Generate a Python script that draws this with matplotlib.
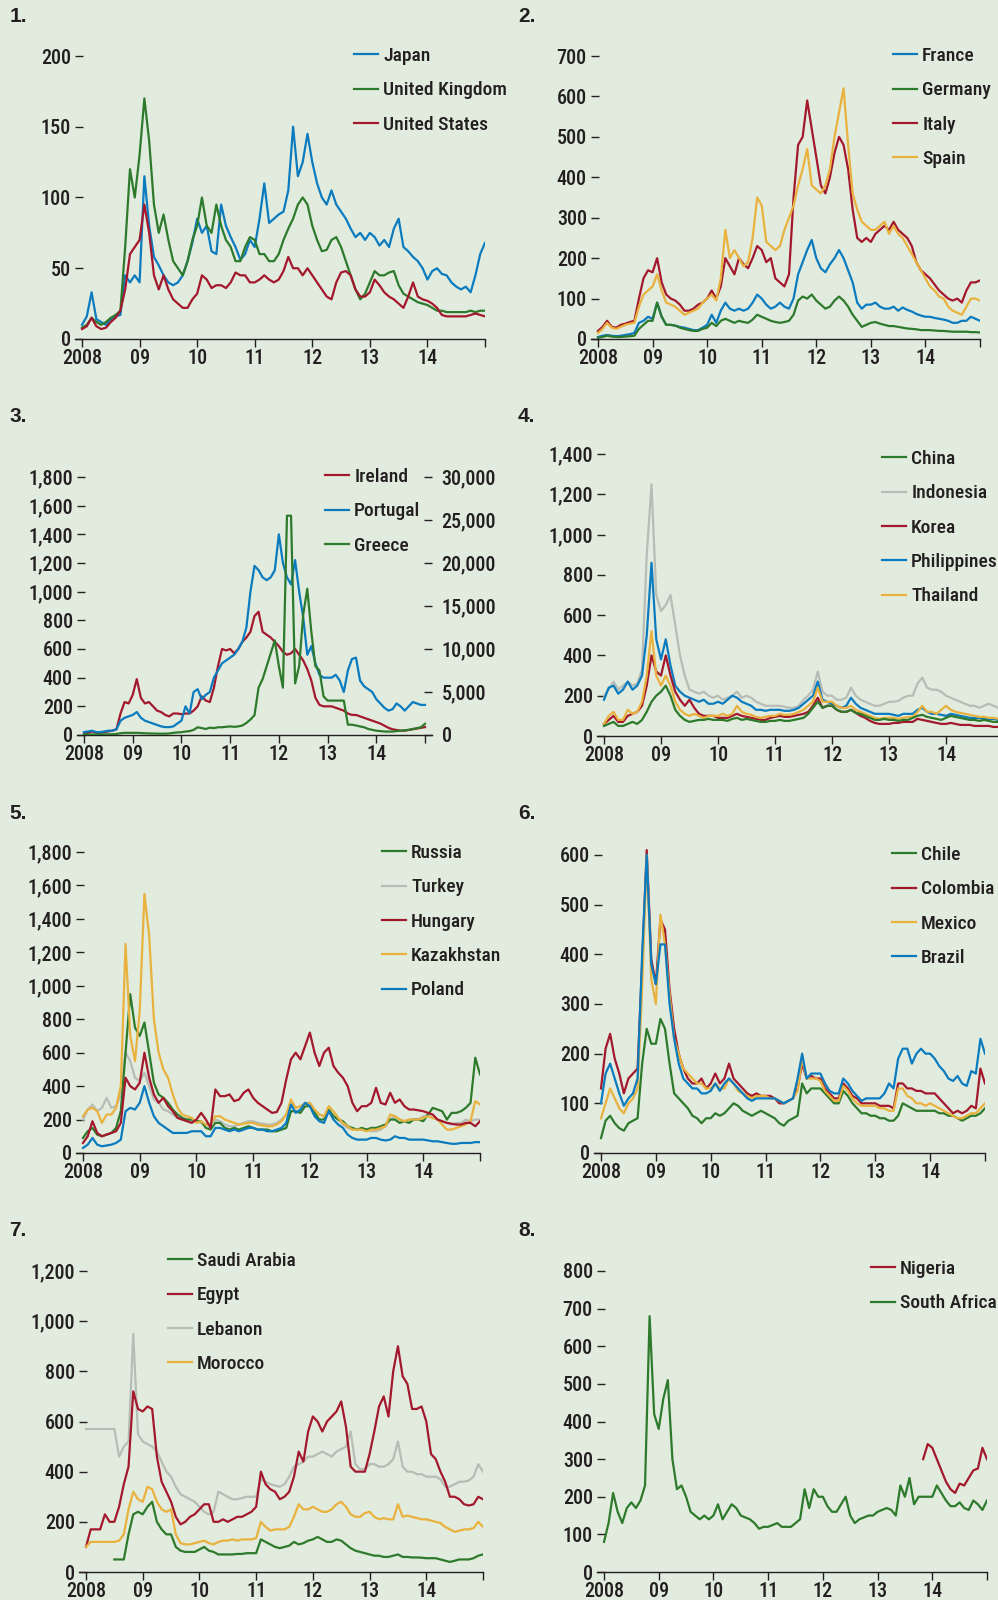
import numpy as np
import matplotlib
matplotlib.use("Agg")
import matplotlib.pyplot as plt
from matplotlib.ticker import FuncFormatter

nan = np.nan

# monthly readings, Jan 2008 .. Jan 2015 (85 points)
months = 2008 + np.arange(85) / 12.0
year_ticks = [2008, 2009, 2010, 2011, 2012, 2013, 2014, 2015]
year_labels = ["2008", "09", "10", "11", "12", "13", "14", ""]

# 1. advanced economies
japan = [10, 16, 33, 14, 12, 10, 14, 16, 17, 45, 40, 45,
         40, 115, 80, 58, 52, 45, 40, 38, 40, 45, 55, 68,
         85, 75, 80, 62, 60, 95, 80, 72, 65, 56, 60, 70,
         65, 85, 110, 82, 85, 88, 90, 105, 150, 115, 125, 145,
         125, 110, 100, 95, 105, 95, 90, 85, 78, 72, 75, 70,
         75, 72, 66, 70, 65, 78, 85, 65, 62, 58, 55, 50,
         42, 48, 50, 46, 45, 40, 37, 35, 37, 33, 45, 60, 68]
uk = [8, 10, 15, 12, 10, 12, 15, 17, 20, 65, 120, 100,
      130, 170, 140, 95, 75, 88, 70, 55, 50, 45, 55, 70,
      80, 100, 80, 75, 95, 80, 70, 65, 55, 55, 65, 72,
      70, 60, 60, 55, 55, 60, 70, 78, 85, 95, 100, 95,
      80, 70, 62, 63, 70, 72, 65, 55, 45, 35, 28, 32,
      40, 48, 45, 45, 47, 48, 38, 32, 30, 28, 26, 25,
      24, 22, 20, 20, 19, 19, 19, 19, 19, 20, 19, 20, 20]
usa = [7, 9, 15, 9, 7, 8, 12, 15, 20, 35, 60, 65,
       70, 95, 75, 45, 35, 45, 35, 28, 25, 22, 22, 28,
       32, 45, 42, 36, 38, 38, 36, 40, 47, 45, 45, 40,
       40, 42, 45, 42, 40, 42, 48, 58, 50, 50, 45, 50,
       45, 40, 35, 30, 28, 40, 47, 48, 45, 35, 30, 30,
       33, 42, 38, 33, 30, 28, 25, 22, 30, 40, 30, 28,
       27, 25, 22, 17, 16, 16, 16, 16, 16, 17, 18, 17, 16]

# 2. euro area core / periphery
france = [5, 8, 10, 8, 7, 8, 10, 12, 15, 40, 45, 55,
          50, 90, 55, 35, 35, 33, 30, 28, 25, 22, 22, 28,
          35, 60, 40, 70, 90, 75, 70, 75, 70, 75, 90, 110,
          100, 85, 75, 80, 90, 80, 75, 100, 160, 190, 220, 245,
          200, 175, 165, 185, 200, 220, 200, 170, 140, 90, 75, 85,
          85, 90, 80, 75, 75, 80, 70, 78, 72, 68, 62, 58,
          55, 55, 52, 50, 48, 45, 40, 40, 45, 45, 55, 50, 45]
germany = [3, 5, 8, 6, 5, 5, 6, 7, 8, 25, 35, 45,
           45, 90, 55, 35, 35, 33, 28, 25, 22, 20, 20, 25,
           28, 40, 32, 45, 50, 45, 40, 45, 42, 40, 48, 60,
           55, 50, 45, 42, 40, 42, 45, 60, 95, 105, 100, 110,
           95, 85, 75, 80, 95, 105, 95, 80, 60, 45, 30, 35,
           40, 42, 38, 35, 32, 32, 30, 28, 26, 25, 24, 22,
           22, 22, 21, 20, 20, 19, 18, 18, 18, 18, 17, 17, 16]
italy = [20, 30, 45, 30, 28, 35, 38, 42, 45, 100, 150, 170,
         165, 200, 140, 110, 100, 95, 85, 70, 70, 75, 85, 90,
         100, 120, 100, 130, 200, 180, 160, 200, 185, 175, 200, 230,
         220, 190, 200, 150, 140, 130, 160, 350, 480, 500, 590, 520,
         450, 380, 360, 400, 460, 500, 480, 420, 320, 250, 240, 250,
         240, 260, 270, 280, 270, 290, 270, 260, 250, 230, 190, 170,
         160, 150, 135, 120, 110, 100, 95, 100, 90, 120, 140, 140, 145]
spain = [15, 25, 40, 28, 25, 30, 35, 38, 40, 80, 110, 120,
         130, 160, 120, 90, 85, 80, 70, 60, 65, 70, 75, 90,
         100, 110, 95, 150, 270, 200, 220, 200, 180, 190, 250, 350,
         330, 240, 230, 220, 230, 270, 300, 330, 380, 420, 470, 380,
         370, 360, 380, 420, 500, 560, 620, 480, 360, 320, 290, 280,
         270, 270, 280, 290, 260, 280, 260, 250, 230, 210, 190, 170,
         150, 130, 120, 105, 100, 80, 70, 65, 60, 80, 100, 100, 95]

# 3. programme countries (Greece on right scale)
ireland = [10, 15, 25, 15, 15, 20, 25, 30, 40, 150, 230, 220,
           280, 390, 260, 220, 230, 200, 170, 160, 140, 130, 150, 150,
           145, 150, 150, 170, 200, 270, 240, 230, 330, 480, 600, 590,
           600, 570, 600, 650, 680, 720, 830, 860, 720, 700, 680, 650,
           620, 580, 560, 570, 600, 560, 520, 460, 380, 260, 210, 200,
           200, 200, 190, 180, 170, 150, 140, 140, 130, 120, 110, 100,
           90, 80, 65, 50, 40, 35, 30, 30, 35, 40, 45, 50, 55]
portugal = [20, 25, 30, 20, 20, 25, 30, 30, 40, 100, 120, 130,
            140, 160, 120, 100, 90, 80, 70, 60, 55, 55, 60, 80,
            100, 200, 150, 300, 320, 250, 280, 300, 400, 450, 500, 520,
            540, 560, 600, 650, 750, 1000, 1180, 1150, 1100, 1080, 1100, 1150,
            1400, 1200, 1100, 1050, 1220, 1000, 820, 560, 620, 500, 420, 400,
            400, 400, 420, 380, 300, 450, 530, 540, 380, 340, 320, 300,
            250, 220, 190, 170, 180, 220, 200, 170, 200, 230, 220, 210, 210]
greece = [50, 60, 60, 70, 70, 70, 80, 90, 120, 200, 250, 250,
          250, 250, 230, 200, 180, 170, 160, 150, 150, 180, 250, 300,
          330, 400, 450, 600, 900, 800, 700, 850, 800, 900, 900, 950,
          1000, 950, 1000, 1100, 1400, 1800, 2300, 5500, 6500, 8000, 9500, 11000,
          8000, 5500, 25500, 25500, 6000, 8000, 14000, 17000, 12000, 8000, 7500, 4500,
          4000, 4000, 4000, 4000, 4000, 1200, 1200, 1100, 1000, 900, 700, 600,
          500, 450, 400, 400, 400, 450, 500, 550, 600, 700, 800, 900, 1300]

# 4. emerging Asia
china = [50, 60, 70, 50, 50, 60, 70, 60, 80, 120, 170, 200,
         220, 250, 200, 130, 100, 80, 70, 75, 80, 80, 85, 80,
         80, 80, 75, 85, 90, 80, 85, 80, 75, 70, 70, 75,
         75, 80, 75, 75, 80, 85, 90, 110, 140, 170, 140, 150,
         150, 130, 120, 120, 130, 115, 110, 100, 90, 80, 80, 85,
         80, 80, 75, 80, 80, 90, 100, 105, 95, 90, 85, 80,
         90, 100, 95, 90, 85, 80, 80, 75, 80, 75, 70, 70, 70]
indonesia = [200, 230, 270, 230, 250, 270, 250, 260, 330, 900, 1250, 700,
             620, 650, 700, 550, 400, 300, 230, 220, 210, 220, 200, 190,
             200, 180, 190, 200, 220, 190, 200, 190, 170, 160, 150, 150,
             150, 150, 145, 140, 140, 150, 180, 200, 230, 320, 220, 200,
             200, 180, 180, 190, 240, 200, 180, 170, 160, 150, 150, 160,
             170, 170, 175, 190, 200, 200, 260, 290, 240, 230, 230, 220,
             200, 190, 180, 170, 160, 150, 150, 140, 150, 160, 150, 140, 140]
korea = [60, 80, 100, 70, 70, 100, 110, 120, 150, 250, 400, 320,
         300, 400, 300, 220, 180, 150, 180, 140, 110, 100, 100, 100,
         90, 90, 90, 100, 110, 100, 95, 90, 85, 80, 80, 90,
         95, 100, 95, 95, 100, 105, 110, 120, 150, 190, 140, 150,
         150, 130, 120, 120, 130, 115, 100, 90, 75, 65, 60, 60,
         60, 65, 65, 70, 70, 70, 85, 80, 75, 70, 65, 60,
         60, 65, 60, 55, 55, 55, 50, 50, 50, 50, 45, 45, 45]
philippines = [180, 240, 250, 210, 230, 270, 230, 250, 300, 500, 860, 480,
               380, 480, 350, 250, 220, 200, 190, 180, 170, 180, 160, 160,
               170, 160, 180, 200, 190, 170, 160, 150, 130, 130, 125, 130,
               130, 130, 125, 125, 130, 140, 160, 180, 200, 270, 180, 170,
               160, 150, 140, 150, 190, 160, 140, 130, 120, 110, 110, 110,
               110, 105, 100, 110, 110, 110, 130, 140, 120, 110, 110, 105,
               100, 110, 105, 100, 95, 90, 90, 90, 85, 85, 85, 80, 80]
thailand = [60, 100, 120, 80, 80, 130, 110, 120, 170, 300, 520, 300,
            250, 300, 250, 170, 130, 110, 100, 110, 100, 90, 100, 100,
            100, 110, 100, 110, 150, 120, 110, 105, 95, 90, 95, 100,
            100, 110, 105, 105, 110, 120, 130, 150, 170, 240, 170, 170,
            170, 150, 140, 140, 150, 130, 120, 110, 100, 90, 85, 90,
            90, 90, 85, 90, 95, 95, 120, 150, 120, 120, 110, 130,
            150, 130, 120, 115, 110, 105, 100, 95, 95, 90, 90, 85, 85]

# 5. emerging Europe / CIS
russia = [90, 130, 150, 110, 100, 110, 120, 150, 250, 600, 950, 750,
          700, 780, 600, 420, 350, 330, 300, 260, 230, 210, 200, 200,
          190, 190, 150, 140, 180, 180, 150, 140, 150, 140, 150, 160,
          150, 140, 140, 140, 130, 130, 140, 150, 250, 250, 240, 280,
          280, 240, 200, 200, 260, 220, 200, 190, 160, 150, 140, 150,
          140, 150, 150, 160, 170, 200, 200, 180, 190, 180, 200, 200,
          190, 230, 270, 260, 250, 200, 240, 240, 250, 270, 300, 570, 470]
turkey = [200, 260, 290, 250, 270, 330, 270, 280, 350, 600, 550, 450,
          430, 480, 400, 320, 300, 260, 250, 230, 210, 200, 200, 190,
          190, 180, 170, 170, 200, 190, 170, 160, 160, 170, 180, 190,
          190, 180, 175, 170, 170, 180, 200, 230, 290, 270, 280, 300,
          300, 250, 230, 220, 250, 220, 200, 170, 150, 140, 140, 140,
          140, 130, 130, 140, 160, 200, 220, 200, 190, 200, 200, 200,
          220, 230, 210, 200, 190, 180, 170, 180, 180, 200, 190, 200, 200]
hungary = [60, 100, 190, 120, 100, 110, 120, 130, 180, 450, 400, 380,
           420, 600, 450, 350, 300, 330, 280, 250, 210, 200, 190, 180,
           200, 240, 200, 150, 380, 340, 340, 350, 310, 320, 360, 380,
           330, 300, 280, 260, 240, 245, 300, 440, 560, 600, 560, 640,
           720, 600, 520, 600, 630, 520, 480, 450, 400, 300, 250, 280,
           280, 300, 390, 300, 290, 360, 300, 320, 280, 260, 260, 255,
           250, 240, 230, 200, 190, 180, 175, 170, 170, 180, 180, 160, 190]
kazakhstan = [220, 260, 270, 250, 180, 230, 230, 270, 400, 1250, 700, 550,
              850, 1550, 1300, 800, 600, 500, 450, 350, 270, 230, 220, 210,
              180, 190, 170, 170, 220, 220, 200, 190, 180, 170, 175, 180,
              180, 170, 165, 160, 160, 170, 190, 230, 320, 270, 280, 290,
              300, 260, 230, 220, 280, 250, 210, 180, 160, 140, 140, 140,
              130, 140, 140, 150, 160, 230, 220, 200, 190, 200, 200, 200,
              210, 220, 210, 200, 170, 140, 140, 150, 160, 170, 190, 310, 290]
poland = [30, 50, 90, 50, 40, 45, 50, 60, 80, 250, 270, 260,
          300, 400, 300, 220, 180, 160, 140, 120, 120, 120, 120, 130,
          130, 130, 100, 100, 150, 150, 140, 130, 140, 130, 140, 150,
          150, 140, 140, 130, 130, 140, 150, 180, 290, 240, 260, 300,
          280, 220, 190, 180, 250, 200, 170, 150, 110, 90, 80, 80,
          80, 90, 90, 80, 75, 80, 100, 90, 90, 80, 80, 80,
          80, 75, 70, 70, 65, 60, 55, 55, 60, 60, 60, 65, 65]

# 6. Latin America
chile = [30, 65, 75, 60, 50, 45, 60, 65, 70, 180, 250, 220,
         220, 270, 250, 180, 120, 110, 100, 90, 75, 70, 60, 70,
         70, 80, 75, 80, 90, 100, 95, 85, 80, 75, 80, 85,
         80, 75, 70, 60, 55, 65, 70, 75, 140, 120, 130, 130,
         130, 120, 110, 100, 100, 125, 115, 100, 90, 80, 80, 75,
         75, 70, 70, 65, 65, 75, 100, 95, 90, 85, 85, 85,
         85, 85, 80, 80, 75, 75, 70, 65, 70, 75, 75, 80, 90]
colombia = [130, 210, 240, 190, 160, 120, 150, 160, 170, 380, 610, 390,
            340, 470, 450, 330, 250, 200, 170, 150, 140, 140, 150, 130,
            140, 160, 140, 150, 180, 150, 140, 130, 120, 115, 120, 115,
            115, 115, 110, 100, 100, 105, 110, 130, 180, 150, 155, 150,
            150, 130, 120, 110, 110, 140, 130, 115, 110, 100, 100, 100,
            100, 95, 95, 95, 90, 140, 140, 130, 130, 125, 125, 120,
            120, 120, 110, 100, 90, 80, 85, 80, 85, 95, 90, 170, 140]
mexico = [70, 100, 130, 110, 90, 80, 100, 110, 130, 330, 600, 350,
          300, 480, 420, 320, 230, 200, 170, 160, 150, 140, 140, 130,
          130, 140, 130, 130, 150, 140, 125, 120, 115, 110, 115, 115,
          115, 110, 110, 105, 100, 105, 110, 125, 190, 150, 150, 150,
          145, 125, 115, 105, 105, 135, 125, 110, 100, 95, 95, 95,
          95, 90, 90, 85, 85, 130, 130, 115, 110, 100, 100, 95,
          100, 95, 90, 85, 80, 75, 70, 70, 75, 80, 80, 90, 100]
brazil = [100, 160, 180, 150, 120, 95, 110, 120, 150, 400, 600, 380,
          340, 420, 420, 300, 230, 180, 150, 140, 130, 130, 120, 120,
          125, 140, 125, 140, 150, 140, 130, 120, 110, 105, 110, 110,
          110, 110, 110, 105, 100, 105, 110, 150, 200, 150, 160, 160,
          160, 140, 125, 120, 120, 150, 140, 125, 115, 105, 110, 110,
          110, 110, 120, 140, 130, 190, 210, 210, 180, 200, 210, 200,
          200, 190, 175, 165, 150, 145, 155, 140, 135, 165, 160, 230, 200]

# 7. Middle East / North Africa
saudi = [nan, nan, nan, nan, nan, nan, 50, 50, 50, 150, 230, 240,
         230, 260, 280, 200, 170, 150, 150, 100, 85, 80, 80, 80,
         90, 100, 85, 80, 70, 70, 70, 70, 72, 72, 75, 75,
         75, 130, 120, 110, 100, 95, 100, 105, 120, 110, 115, 125,
         130, 140, 130, 120, 120, 130, 125, 110, 95, 85, 80, 75,
         70, 65, 65, 60, 60, 65, 70, 60, 60, 58, 58, 57,
         55, 55, 55, 50, 45, 40, 45, 50, 50, 50, 55, 65, 70]
egypt = [100, 170, 170, 170, 230, 200, 200, 260, 350, 420, 720, 650,
         640, 660, 650, 460, 360, 320, 280, 220, 190, 200, 220, 230,
         250, 270, 270, 200, 200, 210, 200, 210, 220, 220, 230, 240,
         260, 400, 350, 330, 320, 290, 300, 320, 380, 480, 440, 560,
         620, 600, 560, 600, 620, 640, 680, 580, 420, 400, 400, 400,
         470, 560, 660, 700, 620, 800, 900, 780, 750, 650, 650, 660,
         600, 470, 450, 400, 360, 300, 300, 290, 270, 265, 270, 300, 290]
lebanon = [570, 570, 570, 570, 570, 570, 570, 460, 500, 520, 950, 550,
           520, 510, 500, 480, 440, 400, 380, 340, 310, 300, 290, 280,
           260, 240, 230, 240, 320, 310, 300, 290, 290, 295, 300, 300,
           300, 370, 360, 350, 345, 340, 350, 380, 420, 430, 440, 460,
           460, 470, 480, 470, 460, 480, 490, 500, 560, 430, 410, 410,
           430, 430, 420, 420, 430, 450, 520, 420, 400, 400, 390, 390,
           380, 380, 380, 370, 340, 340, 350, 360, 360, 365, 380, 430, 400]
morocco = [100, 120, 120, 120, 120, 120, 120, 125, 150, 250, 320, 290,
           280, 340, 330, 280, 250, 240, 250, 150, 115, 110, 110, 115,
           120, 125, 115, 110, 120, 125, 125, 130, 125, 130, 130, 130,
           135, 200, 180, 165, 170, 170, 170, 180, 220, 270, 250, 250,
           260, 250, 240, 240, 250, 270, 280, 260, 230, 220, 220, 235,
           240, 220, 210, 215, 210, 210, 270, 220, 225, 220, 215, 210,
           210, 205, 200, 195, 180, 170, 160, 165, 170, 170, 175, 200, 180]

# 8. sub-Saharan Africa
nigeria = [nan] * 70 + [300, 340,
           330, 300, 270, 240, 220, 210, 235, 230, 250, 270, 275, 330, 300]
south_africa = [80, 130, 210, 160, 130, 170, 185, 170, 190, 230, 680, 420,
                380, 460, 510, 300, 220, 230, 200, 160, 150, 140, 150, 140,
                150, 180, 140, 160, 180, 170, 150, 145, 140, 130, 115, 120,
                120, 125, 130, 120, 120, 120, 130, 140, 220, 170, 220, 200,
                200, 175, 160, 160, 180, 200, 150, 130, 140, 145, 150, 150,
                160, 165, 170, 165, 150, 230, 200, 250, 180, 200, 200, 200,
                200, 230, 210, 190, 175, 175, 185, 170, 165, 190, 180, 165, 190]

BLUE = "#0b7bbf"
GREEN = "#2e7a2c"
RED = "#a3182d"
YELLOW = "#e9b13d"
GREY = "#b8bcb6"
BG = "#e2ecde"
INK = "#231f20"

FONT = ["Roboto Condensed", "Archivo Narrow", "PT Sans Narrow",
        "Sofia Sans Condensed", "Barlow Semi Condensed", "DejaVu Sans"]
FS = 14.5
LFS = 14
W, H = 998, 1600

plt.rcParams["font.family"] = FONT
plt.rcParams["font.weight"] = 500
plt.rcParams["text.color"] = INK

fig = plt.figure(figsize=(W / 100, H / 100), dpi=100, facecolor=BG)

comma = FuncFormatter(lambda v, p: "{:,.0f}".format(v))


def make_ax(x0, x1, y0, ytop, topval, step, lpad=7, rpad=0, head=22):
    # x0 / x1: pixel of 2008 / 2015, y0: pixel of zero, ytop: pixel of top tick
    yw = (x1 - x0) / 7.0
    left, right = x0 - lpad, x1 + rpad
    top_px = ytop - head
    ax = fig.add_axes([left / W, 1 - y0 / H, (right - left) / W, (y0 - top_px) / H])
    ax.set_facecolor("none")
    ax.set_xlim(2008 - lpad / yw, 2015 + rpad / yw)
    ax.set_ylim(0, topval * (y0 - top_px) / (y0 - ytop))
    for s in ("top", "right", "left"):
        ax.spines[s].set_visible(False)
    ax.spines["bottom"].set_color(INK)
    ax.spines["bottom"].set_linewidth(1.0)
    ax.set_xticks(year_ticks)
    ax.set_xticklabels(year_labels)
    ax.set_yticks(np.arange(0, topval + 1, step))
    ax.yaxis.set_major_formatter(comma)
    ax.tick_params(axis="x", direction="out", length=6, width=1, color=INK,
                   labelsize=FS, labelcolor=INK, pad=1)
    ax.tick_params(axis="y", direction="in", length=6, width=1, color=INK,
                   labelsize=FS, labelcolor=INK, pad=3)
    return ax


def legend(ax, handles, labels, x, y):
    ax.legend(handles, labels, loc="upper left",
              bbox_to_anchor=(x / W, 1 - y / H), bbox_transform=fig.transFigure,
              frameon=False, fontsize=LFS, handlelength=1.25,
              handletextpad=0.25, labelspacing=0.84, borderpad=0, borderaxespad=0)


def draw(ax, series):
    out = {}
    for name, vals, col in series:
        assert len(vals) == 85, name
        out[name], = ax.plot(months, vals, color=col, lw=1.6)
    return out


def panel_label(txt, x, y):
    fig.text(x / W, 1 - y / H, txt, fontsize=15, fontweight="bold",
             family=["Liberation Sans", "DejaVu Sans"], va="top", ha="left", color=INK)


# 1
ax = make_ax(82, 485, 339, 56, 200, 50)
h = draw(ax, [("Japan", japan, BLUE), ("United Kingdom", uk, GREEN),
              ("United States", usa, RED)])
legend(ax, [h["Japan"], h["United Kingdom"], h["United States"]],
       ["Japan", "United Kingdom", "United States"], 354, 47)
panel_label("1.", 10, 7)

# 2
ax = make_ax(598, 980, 339, 56, 700, 100)
h = draw(ax, [("France", france, BLUE), ("Germany", germany, GREEN),
              ("Italy", italy, RED), ("Spain", spain, YELLOW)])
legend(ax, [h["France"], h["Germany"], h["Italy"], h["Spain"]],
       ["France", "Germany", "Italy", "Spain"], 893, 47)
panel_label("2.", 518, 7)

# 3
ax = make_ax(84, 425, 735, 477, 1800, 200, rpad=7)
h = draw(ax, [("Ireland", ireland, RED), ("Portugal", portugal, BLUE)])
ax2 = ax.twinx()
ax2.set_ylim(0, 30000 * ax.get_ylim()[1] / 1800)
ax2.set_yticks(np.arange(0, 30001, 5000))
ax2.yaxis.set_major_formatter(comma)
for s in ("top", "right", "left", "bottom"):
    ax2.spines[s].set_visible(False)
ax2.tick_params(axis="y", direction="in", length=6, width=1, color=INK,
                labelsize=FS, labelcolor=INK, pad=7)
assert len(greece) == 85
gl, = ax2.plot(months, greece, color=GREEN, lw=1.6)
legend(ax2, [h["Ireland"], h["Portugal"], gl], ["Ireland", "Portugal", "Greece"], 325, 468)
panel_label("3.", 9, 407)

# 4
ax = make_ax(604, 1003, 736, 454, 1400, 200)
h = draw(ax, [("Indonesia", indonesia, GREY), ("Philippines", philippines, BLUE),
              ("Korea", korea, RED), ("Thailand", thailand, YELLOW),
              ("China", china, GREEN)])
names = ["China", "Indonesia", "Korea", "Philippines", "Thailand"]
legend(ax, [h[n] for n in names], names, 882, 450)
panel_label("4.", 518, 407)

# 5
ax = make_ax(83, 480, 1153, 852, 1800, 200)
h = draw(ax, [("Turkey", turkey, GREY), ("Russia", russia, GREEN),
              ("Kazakhstan", kazakhstan, YELLOW), ("Hungary", hungary, RED),
              ("Poland", poland, BLUE)])
names = ["Russia", "Turkey", "Hungary", "Kazakhstan", "Poland"]
legend(ax, [h[n] for n in names], names, 382, 844)
panel_label("5.", 9, 804)

# 6
ax = make_ax(601, 985, 1153, 855, 600, 100)
h = draw(ax, [("Chile", chile, GREEN), ("Colombia", colombia, RED),
              ("Mexico", mexico, YELLOW), ("Brazil", brazil, BLUE)])
names = ["Chile", "Colombia", "Mexico", "Brazil"]
legend(ax, [h[n] for n in names], names, 892, 846)
panel_label("6.", 518, 804)

# 7
ax = make_ax(86, 483, 1572, 1271, 1200, 200)
h = draw(ax, [("Lebanon", lebanon, GREY), ("Egypt", egypt, RED),
              ("Morocco", morocco, YELLOW), ("Saudi Arabia", saudi, GREEN)])
names = ["Saudi Arabia", "Egypt", "Lebanon", "Morocco"]
legend(ax, [h[n] for n in names], names, 168, 1252)
panel_label("7.", 9, 1221)

# 8
ax = make_ax(604, 987, 1572, 1271, 800, 100)
h = draw(ax, [("South Africa", south_africa, GREEN), ("Nigeria", nigeria, RED)])
legend(ax, [h["Nigeria"], h["South Africa"]], ["Nigeria", "South Africa"], 871, 1260)
panel_label("8.", 518, 1221)

fig.savefig("out.png", dpi=100, facecolor=BG)
